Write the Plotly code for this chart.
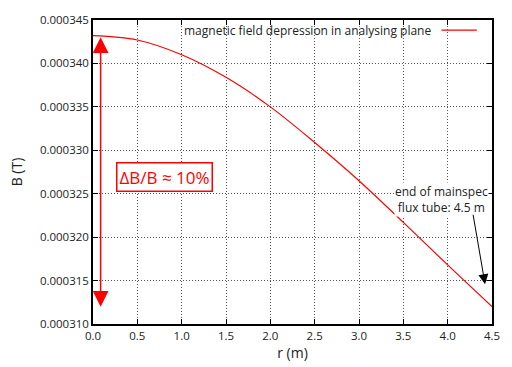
import plotly.graph_objects as go

# Radial profile of the magnetic field in the analysing plane
r_m = [0.0, 0.5, 1.0, 1.5, 2.0, 2.5, 3.0, 3.5, 4.0, 4.5]
b_tesla = [343.2e-6, 342.7e-6, 341.0e-6, 338.4e-6, 335.0e-6,
           330.9e-6, 326.5e-6, 321.7e-6, 316.8e-6, 312.0e-6]

x_ticks = [0.0, 0.5, 1.0, 1.5, 2.0, 2.5, 3.0, 3.5, 4.0, 4.5]
y_ticks = [310e-6, 315e-6, 320e-6, 325e-6, 330e-6, 335e-6, 340e-6, 345e-6]

series_name = "magnetic field depression in analysing plane"
flux_tube_note = "end of mainspec<br>flux tube: 4.5 m"

b_max, b_min = b_tesla[0], b_tesla[-1]
depression_pct = round((b_max - b_min) / b_min * 100)

FONT = "Open Sans"
TEXT = "#222222"

fig = go.Figure()
fig.add_trace(go.Scatter(
    x=r_m, y=b_tesla, mode="lines", name=series_name,
    line=dict(color="#ff0000", width=1.2, shape="spline"),
    showlegend=False,
))

axis_common = dict(
    showline=True, linecolor="black", linewidth=1.5, mirror="ticks",
    ticks="inside", ticklen=5, tickcolor="black", tickwidth=1,
    showgrid=True, gridcolor="#555555", griddash="1px,2px", gridwidth=1,
    zeroline=False, tickfont=dict(family=FONT, size=11.5, color=TEXT),
)

fig.update_xaxes(range=[0, 4.5], tickvals=x_ticks, tickformat=".1f",
                 title=dict(text="r (m)", font=dict(family=FONT, size=14, color=TEXT),
                            standoff=3),
                 **axis_common)
fig.update_yaxes(range=[310e-6, 345e-6], tickvals=y_ticks, tickformat=".6f",
                 title=dict(text="B (T)", font=dict(family=FONT, size=14, color=TEXT),
                            standoff=14),
                 **axis_common)

annotations = [
    # double-headed arrow spanning the field depression
    dict(x=0.086, y=b_min, ax=0.086, ay=b_max, xref="x", yref="y",
         axref="x", ayref="y", text="", showarrow=True,
         arrowhead=2, startarrowhead=2, arrowside="end+start",
         arrowsize=2.1, startarrowsize=2.1, arrowwidth=1.5, arrowcolor="#ff0000"),
    # relative depression label
    dict(x=0.806, y=326.94e-6, xref="x", yref="y", showarrow=False,
         text=f"ΔB/B ≈ {depression_pct}%",
         font=dict(family=FONT, size=17, color="#ff0000"),
         bordercolor="#ff0000", borderwidth=1.5, borderpad=2, bgcolor="white"),
    # flux tube note
    dict(x=3.925, y=324.35e-6, xref="x", yref="y", showarrow=False,
         text=flux_tube_note, align="center",
         font=dict(family=FONT, size=12, color=TEXT),
         bgcolor="white", borderpad=0),
    dict(x=4.422, y=314.58e-6, ax=4.284, ay=322.75e-6, xref="x", yref="y",
         axref="x", ayref="y", text="", showarrow=True,
         arrowhead=2, arrowsize=2.0, arrowwidth=1, arrowcolor="black"),
    # key for the curve
    dict(x=0.8529, y=0.9669, xref="paper", yref="paper", xanchor="right",
         yanchor="middle", showarrow=False, text=series_name,
         font=dict(family=FONT, size=12, color=TEXT)),
]

fig.update_layout(
    width=512, height=367,
    margin=dict(l=93, r=16, t=14, b=42),
    paper_bgcolor="white", plot_bgcolor="white",
    annotations=annotations,
    shapes=[dict(type="line", xref="paper", yref="paper",
                 x0=0.8734, x1=0.962, y0=0.9669, y1=0.9669,
                 line=dict(color="#ff0000", width=1.3))],
)

fig.write_html("out.html")
